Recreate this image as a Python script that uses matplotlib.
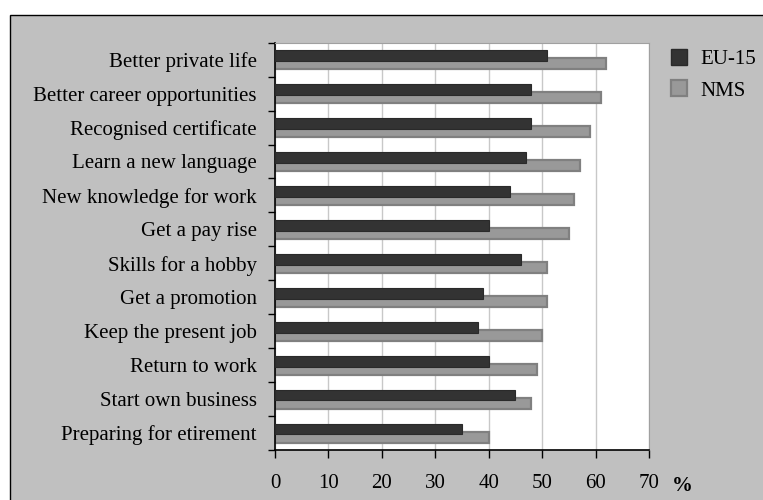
import matplotlib.pyplot as plt
import matplotlib.patches as mpatches
import numpy as np

categories = ['Better private life', 'Better career opportunities', 'Recognised certificate',
              'Learn a new language', 'New knowledge for work', 'Get a pay rise',
              'Skills for a hobby', 'Get a promotion', 'Keep the present job',
              'Return to work', 'Start own business', 'Preparing for etirement']
eu15 = [51, 48, 48, 47, 44, 40, 46, 39, 38, 40, 45, 35]
nms = [62, 61, 59, 57, 56, 55, 51, 51, 50, 49, 48, 40]
xticks = [0, 10, 20, 30, 40, 50, 60, 70]

plt.rcParams['font.family'] = ['Liberation Serif', 'DejaVu Serif']

W, H = 763, 500
fig = plt.figure(figsize=(W / 100, H / 100), dpi=100)
fig.patch.set_facecolor('white')

# grey panel with black border on top/left
bg = mpatches.Rectangle((10 / W, -0.1), 1.2, 0.1 + 485 / H, transform=fig.transFigure,
                        facecolor='#c0c0c0', edgecolor='black', linewidth=1.0, zorder=-10)
fig.patches.append(bg)

ax = fig.add_axes([275 / W, 50 / H, (649 - 275) / W, (457.3 - 50) / H])
ax.set_facecolor('white')

n = len(categories)
y = np.arange(n)
h = 0.32
off = 0.12
ax.barh(y - off, eu15, height=h, color='#333333', edgecolor='#2a2a2a', linewidth=0.8, zorder=3, label='EU-15')
ax.barh(y + off, nms, height=h, color='#999999', edgecolor='#808080', linewidth=1.6, zorder=2, label='NMS')

ax.set_xlim(0, 70)
ax.set_ylim(n - 0.5, -0.5)
ax.set_xticks(xticks)
ax.set_xticklabels([str(t) for t in xticks], fontsize=15)
ax.tick_params(axis='x', length=6, width=1, pad=11, direction='out')

ax.set_yticks(np.arange(n + 1) - 0.5)
ax.set_yticklabels([])
ax.tick_params(axis='y', which='major', length=5, width=1, direction='out')
ax.set_yticks(y, minor=True)
ax.set_yticklabels(categories, minor=True, fontsize=15)
ax.tick_params(axis='y', which='minor', length=0, pad=13)

ax.xaxis.grid(True, color='#c8c8c8', linewidth=1, zorder=0)
ax.set_axisbelow(True)
for s in ['top', 'right']:
    ax.spines[s].set_color('#a0a0a0')
for s in ['left', 'bottom']:
    ax.spines[s].set_color('black')
    ax.spines[s].set_linewidth(1.2)

fig.text(682 / W, 1 - 486 / H, '%', fontsize=15, fontweight='bold', ha='center', va='center')

handles = [mpatches.Patch(facecolor='#333333', edgecolor='#2a2a2a'),
           mpatches.Patch(facecolor='#999999', edgecolor='#808080', linewidth=1.6)]
fig.legend(handles, ['EU-15', 'NMS'], loc='upper left', bbox_to_anchor=(652 / W, 1 - 30 / H),
           frameon=False, fontsize=15, handlelength=0.8, handleheight=0.8,
           handletextpad=0.6, labelspacing=0.55)

fig.savefig('out.png', dpi=100)
